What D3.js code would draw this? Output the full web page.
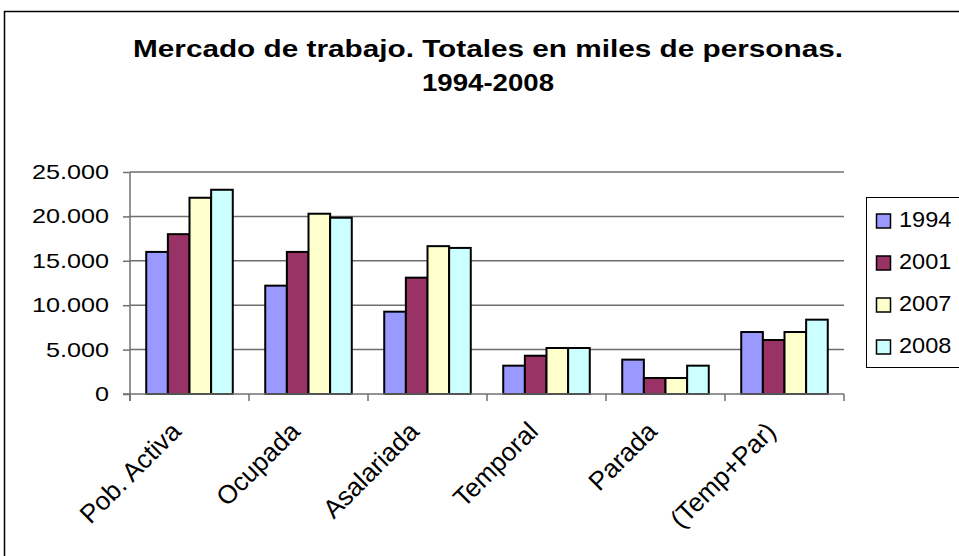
<!DOCTYPE html>
<html>
<head>
<meta charset="utf-8">
<script src="https://cdn.jsdelivr.net/npm/d3@7"></script>
<style>
  body { margin: 0; background: #fff; }
  text { font-family: "Liberation Sans", Arial, sans-serif; fill: #000; }
</style>
</head>
<body>
<div id="chart"></div>
<script>
// data (miles de personas)
var categories = ['Pob. Activa', 'Ocupada', 'Asalariada', 'Temporal', 'Parada', '(Temp+Par)'];
var years = ['1994', '2001', '2007', '2008'];
var v1994 = [16000, 12200, 9270, 3190, 3870, 6980];
var v2001 = [18000, 16000, 13100, 4310, 1800, 6080];
var v2007 = [22100, 20300, 16650, 5180, 1800, 6980];
var v2008 = [23000, 19850, 16450, 5180, 3190, 8370];
var yTicks = [0, 5000, 10000, 15000, 20000, 25000];
var colors = ['#9999FF', '#993366', '#FFFFCC', '#CCFFFF'];

var seriesValues = [v1994, v2001, v2007, v2008];

var width = 959, height = 556;
var plot = {left: 130, right: 844, top: 172, bottom: 394};

var svg = d3.select('#chart').append('svg')
  .attr('width', width)
  .attr('height', height);

// outer frame
svg.append('rect')
  .attr('x', 4.5).attr('y', 11.5)
  .attr('width', 1000).attr('height', 700)
  .attr('fill', '#fff')
  .attr('stroke', '#000')
  .attr('stroke-width', 1.5);

// title
svg.append('text')
  .attr('x', 488).attr('y', 57)
  .attr('text-anchor', 'middle')
  .attr('font-size', 23).attr('font-weight', 'bold')
  .attr('textLength', 710).attr('lengthAdjust', 'spacingAndGlyphs')
  .text('Mercado de trabajo. Totales en miles de personas.');
svg.append('text')
  .attr('x', 488).attr('y', 91)
  .attr('text-anchor', 'middle')
  .attr('font-size', 23).attr('font-weight', 'bold')
  .attr('textLength', 132).attr('lengthAdjust', 'spacingAndGlyphs')
  .text('1994-2008');

var x0 = d3.scaleBand()
  .domain(categories)
  .range([plot.left, plot.right])
  .padding(0);

var barW = x0.bandwidth() / 5.5;
var x1 = d3.scaleBand()
  .domain(years)
  .range([barW * 0.75, barW * 0.75 + barW * 4])
  .padding(0);

var y = d3.scaleLinear()
  .domain([0, 25000])
  .range([plot.bottom, plot.top]);

var fmt = function(d) { return d3.format(',')(d).replace(/,/g, '.'); };

// gridlines
svg.append('g')
  .selectAll('line')
  .data(yTicks.slice(1))
  .enter().append('line')
  .attr('x1', plot.left).attr('x2', plot.right)
  .attr('y1', function(d) { return y(d); })
  .attr('y2', function(d) { return y(d); })
  .attr('stroke', '#6e6e6e')
  .attr('stroke-width', 1.5);

// bars
var rows = [];
categories.forEach(function(c, i) {
  years.forEach(function(yr, j) {
    rows.push({cat: c, year: yr, value: seriesValues[j][i], color: colors[j]});
  });
});

svg.append('g')
  .selectAll('rect')
  .data(rows)
  .enter().append('rect')
  .attr('x', function(d) { return x0(d.cat) + x1(d.year); })
  .attr('y', function(d) { return y(d.value); })
  .attr('width', x1.bandwidth())
  .attr('height', function(d) { return y(0) - y(d.value); })
  .attr('fill', function(d) { return d.color; })
  .attr('stroke', '#000')
  .attr('stroke-width', 2);

// y axis
var yAxis = d3.axisLeft(y)
  .tickValues(yTicks)
  .tickSize(7)
  .tickFormat('');
var gy = svg.append('g')
  .attr('transform', 'translate(' + plot.left + ',0)')
  .call(yAxis);
gy.select('.domain').remove();
gy.selectAll('line').attr('stroke', '#707070').attr('stroke-width', 1.5);
gy.append('line')
  .attr('x1', 0).attr('x2', 0)
  .attr('y1', plot.top).attr('y2', plot.bottom + 7)
  .attr('stroke', '#707070').attr('stroke-width', 1.5);

svg.append('g')
  .selectAll('text')
  .data(yTicks)
  .enter().append('text')
  .attr('transform', function(d) { return 'translate(109,' + (y(d) + 7) + ') scale(1.26,1)'; })
  .attr('text-anchor', 'end')
  .attr('font-size', 20)
  .text(fmt);

// x axis
var xEdges = categories.map(function(c) { return x0(c); }).concat([plot.right]);
var gx = svg.append('g');
gx.append('line')
  .attr('x1', plot.left - 7).attr('x2', plot.right)
  .attr('y1', plot.bottom).attr('y2', plot.bottom)
  .attr('stroke', '#707070').attr('stroke-width', 1.5);
gx.selectAll('line.tick')
  .data(xEdges)
  .enter().append('line')
  .attr('class', 'tick')
  .attr('x1', function(d) { return d; }).attr('x2', function(d) { return d; })
  .attr('y1', plot.bottom).attr('y2', plot.bottom + 7)
  .attr('stroke', '#707070').attr('stroke-width', 1.5);

gx.selectAll('text')
  .data(categories)
  .enter().append('text')
  .attr('transform', function(d) {
    return 'translate(' + (x0(d) + x0.bandwidth() / 2 - 7) + ',' + (plot.bottom + 39) + ') rotate(-45)';
  })
  .attr('text-anchor', 'end')
  .attr('font-size', 26)
  .text(function(d) { return d; });

// legend
var legend = svg.append('g');
legend.append('rect')
  .attr('x', 866.5).attr('y', 197.5)
  .attr('width', 200).attr('height', 170)
  .attr('fill', '#fff')
  .attr('stroke', '#000')
  .attr('stroke-width', 1);

var li = legend.selectAll('g.item')
  .data(years)
  .enter().append('g')
  .attr('class', 'item')
  .attr('transform', function(d, i) { return 'translate(0,' + (i * 42) + ')'; });
li.append('rect')
  .attr('x', 876.5).attr('y', 214)
  .attr('width', 14).attr('height', 14)
  .attr('fill', function(d, i) { return colors[i]; })
  .attr('stroke', '#000')
  .attr('stroke-width', 1.5);
li.append('text')
  .attr('transform', 'translate(899,227) scale(1.07,1)')
  .attr('font-size', 22)
  .text(function(d) { return d; });
</script>
</body>
</html>
